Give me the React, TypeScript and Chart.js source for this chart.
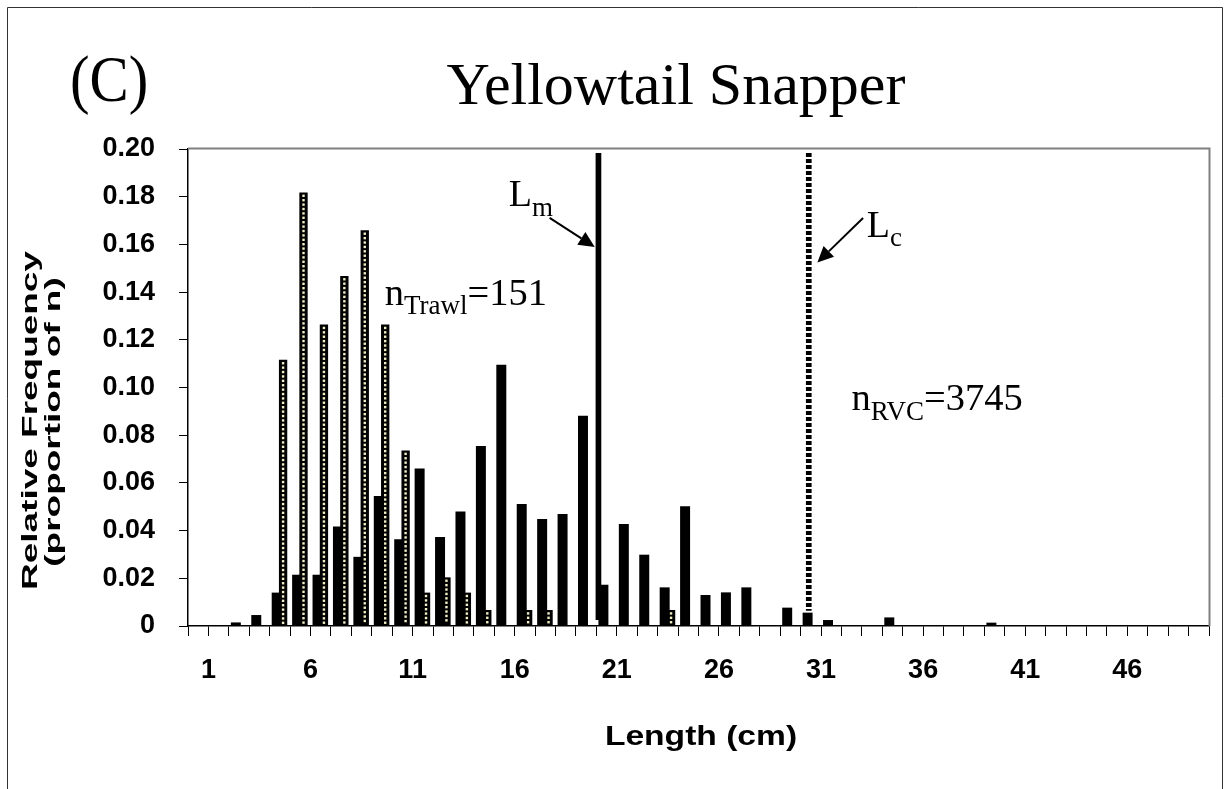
import React, { useEffect, useRef } from 'react';
import { Chart, registerables } from 'chart.js';

Chart.register(...registerables);

// ---------- data ----------
const LENGTHS = [
  0, 1, 2, 3, 4, 5, 6, 7, 8, 9,
  10, 11, 12, 13, 14, 15, 16, 17, 18, 19,
  20, 21, 22, 23, 24, 25, 26, 27, 28, 29,
  30, 31, 32, 33, 34, 35, 36, 37, 38, 39,
  40, 41, 42, 43, 44, 45, 46, 47, 48, 49,
];

// RVC (black bars), n = 3745
const RVC = [
  0, 0, 0.0015, 0.0046, 0.014, 0.0215, 0.0215, 0.0417, 0.029, 0.0545,
  0.0364, 0.066, 0.0373, 0.048, 0.0755, 0.1095, 0.0512, 0.0449, 0.047, 0.0882,
  0.0173, 0.0428, 0.0299, 0.0162, 0.0502, 0.013, 0.0141, 0.0162, 0, 0.0077,
  0.0056, 0.0025, 0, 0, 0.0036, 0, 0, 0, 0, 0.0014,
  0, 0, 0, 0, 0, 0, 0, 0, 0, 0,
];

// Trawl (dotted bars), n = 151
const TRAWL = [
  0, 0, 0, 0, 0.1116, 0.1818, 0.1264, 0.1468, 0.1659, 0.1264,
  0.0736, 0.014, 0.0204, 0.014, 0.0067, 0, 0.0067, 0.0067, 0, 0,
  0, 0, 0, 0.0067, 0, 0, 0, 0, 0, 0,
  0, 0, 0, 0, 0, 0, 0, 0, 0, 0,
  0, 0, 0, 0, 0, 0, 0, 0, 0, 0,
];

const X_LABELS_SHOWN = [1, 6, 11, 16, 21, 26, 31, 36, 41, 46];
const Y_MIN = 0;
const Y_MAX = 0.2;
const Y_STEP = 0.02;

// reference lines (length in cm, value range)
const LM_LENGTH = 20.1;
const LM_RANGE = [0.0025, 0.1983];
const LC_LENGTH = 30.4;
const LC_RANGE = [0.0064, 0.1983];

// annotation anchors in data units [length, value]
const LM_TEXT = [15.71, 0.1762];
const LM_ARROW = [[17.71, 0.1711], [19.92, 0.1589]];
const LC_TEXT = [33.24, 0.1633];
const LC_ARROW = [[33.06, 0.1711], [30.82, 0.1524]];
const N_TRAWL_TEXT = [9.63, 0.1347];
const N_RVC_TEXT = [32.49, 0.0906];

const TITLE = 'Yellowtail Snapper';
const PANEL = '(C)';
const Y_TITLE = ['Relative Frequency', '(proportion of n)'];
const X_TITLE = 'Length (cm)';

const SERIF = '"Liberation Serif", "Times New Roman", serif';
const SANS = '"Liberation Sans", Arial, sans-serif';

function drawSubText(
  ctx: CanvasRenderingContext2D,
  x: number,
  y: number,
  main: string,
  sub: string,
  rest: string,
  mainSize: number,
  subSize: number,
  drop: number
) {
  ctx.textAlign = 'left';
  ctx.textBaseline = 'alphabetic';
  ctx.font = `${mainSize}px ${SERIF}`;
  ctx.fillText(main, x, y);
  let cx = x + ctx.measureText(main).width;
  ctx.font = `${subSize}px ${SERIF}`;
  ctx.fillText(sub, cx, y + drop);
  cx += ctx.measureText(sub).width;
  if (rest) {
    ctx.font = `${mainSize}px ${SERIF}`;
    ctx.fillText(rest, cx, y);
  }
}

function drawArrow(ctx: CanvasRenderingContext2D, x1: number, y1: number, x2: number, y2: number) {
  const ang = Math.atan2(y2 - y1, x2 - x1);
  const headLen = 16;
  const headHalf = 7.5;
  const bx = x2 - headLen * Math.cos(ang);
  const by = y2 - headLen * Math.sin(ang);
  ctx.strokeStyle = '#000';
  ctx.lineWidth = 2;
  ctx.beginPath();
  ctx.moveTo(x1, y1);
  ctx.lineTo(bx, by);
  ctx.stroke();
  ctx.fillStyle = '#000';
  ctx.beginPath();
  ctx.moveTo(x2, y2);
  ctx.lineTo(bx + headHalf * Math.sin(ang), by - headHalf * Math.cos(ang));
  ctx.lineTo(bx - headHalf * Math.sin(ang), by + headHalf * Math.cos(ang));
  ctx.closePath();
  ctx.fill();
}

const overlayPlugin = {
  id: 'overlay',
  beforeDraw(chart: any) {
    const ctx = chart.ctx as CanvasRenderingContext2D;
    ctx.save();
    ctx.fillStyle = '#fff';
    ctx.fillRect(0, 0, chart.width, chart.height);
    // outer frame
    ctx.strokeStyle = '#333';
    ctx.lineWidth = 1;
    ctx.beginPath();
    ctx.moveTo(7.5, chart.height + 5);
    ctx.lineTo(7.5, 7.5);
    ctx.lineTo(1222.5, 7.5);
    ctx.lineTo(1222.5, chart.height + 5);
    ctx.stroke();
    ctx.restore();
  },
  afterDatasetsDraw(chart: any) {
    const ctx = chart.ctx as CanvasRenderingContext2D;
    const xs = chart.scales.x;
    const ys = chart.scales.y;
    const area = chart.chartArea;
    const px = (len: number) => xs.getPixelForValue(len - 0.5);
    const py = (v: number) => ys.getPixelForValue(v);
    ctx.save();

    // plot-area border (top and right)
    ctx.strokeStyle = '#808080';
    ctx.lineWidth = 2;
    ctx.beginPath();
    ctx.moveTo(area.left, area.top - 0.5);
    ctx.lineTo(area.right + 0.5, area.top - 0.5);
    ctx.lineTo(area.right + 0.5, area.bottom);
    ctx.stroke();

    // dots in trawl bars
    const meta = chart.getDatasetMeta(1);
    ctx.fillStyle = '#f2eec6';
    meta.data.forEach((el: any, i: number) => {
      if (!TRAWL[i]) return;
      const p = el.getProps(['x', 'y', 'base'], true);
      const d = 2.4;
      for (let yy = p.y + 2.2; yy + d <= p.base - 1.2; yy += 4.4) {
        ctx.fillRect(p.x - d / 2, yy, d, d);
      }
    });

    // Lm solid line
    ctx.strokeStyle = '#000';
    ctx.lineWidth = 5.7;
    ctx.lineCap = 'butt';
    ctx.beginPath();
    ctx.moveTo(px(LM_LENGTH), py(LM_RANGE[1]));
    ctx.lineTo(px(LM_LENGTH), py(LM_RANGE[0]));
    ctx.stroke();

    // Lc dotted line
    ctx.setLineDash([4, 2]);
    ctx.beginPath();
    ctx.moveTo(px(LC_LENGTH), py(LC_RANGE[1]));
    ctx.lineTo(px(LC_LENGTH), py(LC_RANGE[0]));
    ctx.stroke();
    ctx.setLineDash([]);

    // arrows
    drawArrow(ctx, px(LM_ARROW[0][0]), py(LM_ARROW[0][1]), px(LM_ARROW[1][0]), py(LM_ARROW[1][1]));
    drawArrow(ctx, px(LC_ARROW[0][0]), py(LC_ARROW[0][1]), px(LC_ARROW[1][0]), py(LC_ARROW[1][1]));

    // texts
    ctx.fillStyle = '#000';
    drawSubText(ctx, px(LM_TEXT[0]), py(LM_TEXT[1]), 'L', 'm', '', 38, 27, 10);
    drawSubText(ctx, px(LC_TEXT[0]), py(LC_TEXT[1]), 'L', 'c', '', 38, 27, 9.5);
    drawSubText(ctx, px(N_TRAWL_TEXT[0]), py(N_TRAWL_TEXT[1]), 'n', 'Trawl', '=151', 38.5, 27, 9);
    drawSubText(ctx, px(N_RVC_TEXT[0]), py(N_RVC_TEXT[1]), 'n', 'RVC', '=3745', 38.5, 27, 10);

    ctx.restore();
  },
  afterDraw(chart: any) {
    const ctx = chart.ctx as CanvasRenderingContext2D;
    ctx.save();
    ctx.fillStyle = '#000';
    // title
    ctx.font = `60px ${SERIF}`;
    ctx.textAlign = 'center';
    ctx.textBaseline = 'alphabetic';
    ctx.fillText(TITLE, 676, 103.5);
    // panel letter
    ctx.save();
    ctx.translate(70, 101);
    ctx.scale(0.89, 1);
    ctx.font = `66px ${SERIF}`;
    ctx.textAlign = 'left';
    ctx.fillText(PANEL, 0, 0);
    ctx.restore();
    // y title (two lines, rotated)
    ctx.font = `bold 22px ${SANS}`;
    ctx.textAlign = 'center';
    ctx.textBaseline = 'middle';
    const yCenters = [[31, 420.5], [53.5, 422]];
    Y_TITLE.forEach((t, i) => {
      ctx.save();
      ctx.translate(yCenters[i][0], yCenters[i][1]);
      ctx.rotate(-Math.PI / 2);
      ctx.scale(1.68, 1);
      ctx.fillText(t, 0, 0);
      ctx.restore();
    });
    // x title
    ctx.save();
    ctx.translate(701, 737);
    ctx.scale(1.2, 1);
    ctx.font = `bold 28px ${SANS}`;
    ctx.fillText(X_TITLE, 0, 0);
    ctx.restore();
    ctx.restore();
  },
};

export default function App() {
  const ref = useRef<HTMLCanvasElement>(null);
  useEffect(() => {
    if (!ref.current) return;
    const chart = new Chart(ref.current, {
      type: 'bar',
      data: {
        labels: LENGTHS.map(String),
        datasets: [
          {
            label: 'RVC',
            data: RVC.map((v) => (v === 0 ? null : v)),
            backgroundColor: '#000',
            borderWidth: 0,
            categoryPercentage: 0.627,
            barPercentage: 1.56,
          },
          {
            label: 'Trawl',
            data: TRAWL.map((v) => (v === 0 ? null : v)),
            backgroundColor: '#000',
            borderWidth: 0,
            categoryPercentage: 0.627,
            barPercentage: 1.3,
          },
        ],
      },
      options: {
        responsive: false,
        animation: false,
        devicePixelRatio: 1,
        layout: { padding: { left: 0, right: 21, top: 149, bottom: 0 } },
        plugins: {
          legend: { display: false },
          tooltip: { enabled: false },
          title: { display: false },
        },
        scales: {
          x: {
            type: 'category',
            offset: true,
            grid: {
              offset: true,
              drawOnChartArea: false,
              drawTicks: true,
              tickLength: 10,
              color: '#000',
              lineWidth: 1,
            },
            border: { display: true, color: '#000', width: 1.5 },
            ticks: {
              autoSkip: false,
              maxRotation: 0,
              minRotation: 0,
              padding: 18,
              labelOffset: -10.2,
              color: '#000',
              font: { family: SANS, size: 27, weight: 'bold' },
              callback: (_v: any, idx: number) =>
                X_LABELS_SHOWN.includes(LENGTHS[idx]) ? String(LENGTHS[idx]) : '',
            },
            afterFit: (scale: any) => {
              scale.height = 163;
            },
          },
          y: {
            min: Y_MIN,
            max: Y_MAX,
            grid: {
              drawOnChartArea: false,
              drawTicks: true,
              tickLength: 9,
              color: '#000',
              lineWidth: 1,
            },
            border: { display: true, color: '#000', width: 1.5 },
            ticks: {
              stepSize: Y_STEP,
              padding: 24,
              color: '#000',
              font: { family: SANS, size: 27, weight: 'bold' },
              callback: (v: any) => (Math.abs(Number(v)) < 1e-9 ? '0' : Number(v).toFixed(2)),
            },
            afterFit: (scale: any) => {
              scale.width = 188;
            },
          },
        },
      } as any,
      plugins: [overlayPlugin],
    });
    return () => chart.destroy();
  }, []);
  return (
    <div style={{ position: 'absolute', left: 0, top: 0, width: 1230, height: 789, background: '#fff', overflow: 'hidden' }}>
      <canvas ref={ref} width={1230} height={789} style={{ display: 'block' }} />
    </div>
  );
}
